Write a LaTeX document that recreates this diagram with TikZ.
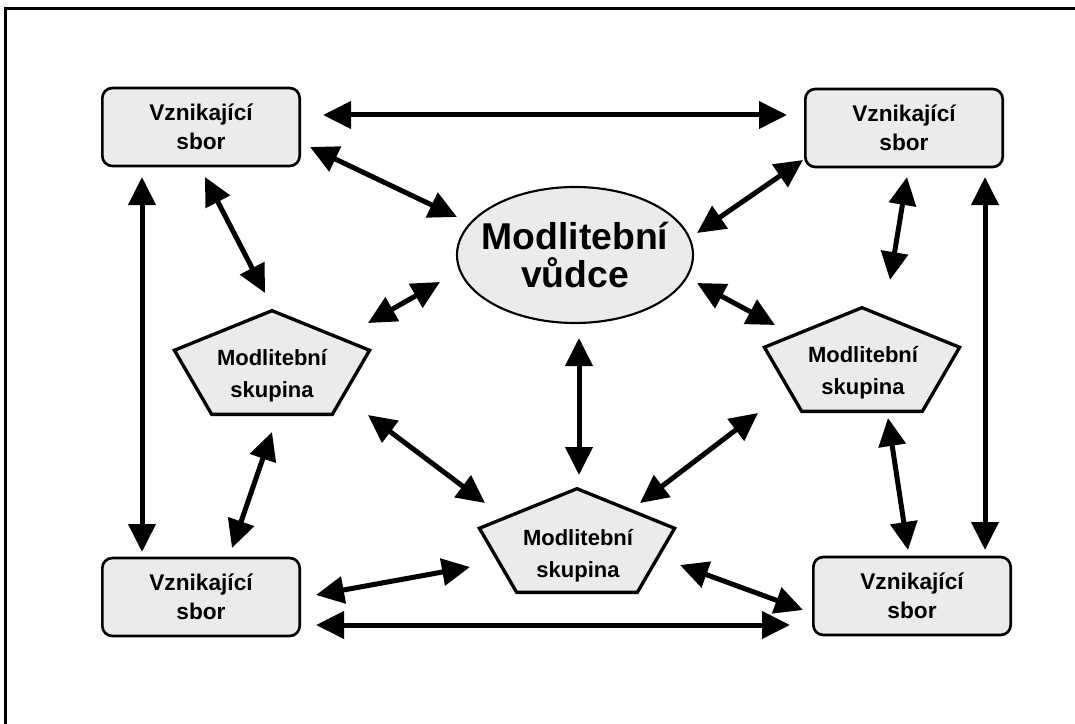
\documentclass[tikz,border=0pt]{standalone}
\usepackage{fontspec}
\setmainfont{Liberation Sans}
\usetikzlibrary{positioning, calc, shapes.geometric, arrows.meta}
\tikzstyle{Arrow} = [
%Double-headed arrow style:
line width = 3.75pt,
{Triangle[length=21pt, width=20pt]}-{Triangle[length=21pt, width=20pt]}
]

\begin{document}
\begin{tikzpicture}[
			x = 0.75pt, y = -0.75pt,
			sbor/.style = {rectangle, rounded corners = 7.5pt, draw, line width = 2pt, fill = black!8, minimum width = 148pt, minimum height = 58.5pt, align = center, font = \bfseries\fontsize{17}{22}\selectfont},
			vudce/.style = {ellipse, draw, line width = 1.6pt, fill = black!8, minimum width = 177pt, minimum height = 102pt, inner xsep = -9pt, inner ysep = 0pt, align = center, font = \bfseries\fontsize{28}{28}\selectfont},
			skupina/.style = {regular polygon, regular polygon sides = 5, draw, line width = 2.5pt, fill = black!8, minimum size = 86pt, inner sep = 0pt, xscale = 1.79, transform shape},
			skupinatext/.style = {align = center, font = \bfseries\fontsize{16.5}{24}\selectfont},
		]
		\useasboundingbox (0,0) rectangle (1075,724);
		\draw[line width = 2.25pt] (5,724) |- (1075,9);

		\node[sbor](TL) at (201,127){Vznikající\\sbor};
		\node[sbor](TR) at (904,128){Vznikající\\sbor};
		\node[sbor](BL) at (201,597){Vznikající\\sbor};
		\node[sbor](BR) at (912,596){Vznikající\\sbor};
		\node[vudce](V) at (575,255){Modlitební\\vůdce};

		\node[skupina](SL) at (272,368){};
		\node[skupina](SR) at (862,365){};
		\node[skupina](SB) at (577,546){};
		\node[skupinatext](SLtext) at (272,376){Modlitební\\skupina};
		\node[skupinatext](SRtext) at (863,373){Modlitební\\skupina};
		\node[skupinatext](SBtext) at (578,556){Modlitební\\skupina};

		\draw[Arrow]([shift={(122,-12)}]TL.center)--([shift={(-117,-13)}]TR.center);
		\draw[Arrow]([shift={(109,20)}]TL.center)--([shift={(-118,-38)}]V.center);
		\draw[Arrow]([shift={(4,50)}]TL.center)--([shift={(-7,-75)}]SL.center);
		\draw[Arrow]([shift={(-59,50)}]TL.center)--([shift={(-59,-45)}]BL.center);
		\draw[Arrow]([shift={(96,-45)}]SL.center)--([shift={(-135,27)}]V.center);
		\draw[Arrow]([shift={(0,64)}]SL.center)--([shift={(31,-49)}]BL.center);
		\draw[Arrow]([shift={(96,47)}]SL.center)--([shift={(-92,-43)}]SB.center);
		\draw[Arrow]([shift={(4,83)}]V.center)--([shift={(2,-71)}]SB.center);
		\draw[Arrow]([shift={(115,-2)}]BL.center)--([shift={(-107,21)}]SB.center);
		\draw[Arrow]([shift={(115,28)}]BL.center)--([shift={(-122,29)}]BR.center);
		\draw[Arrow]([shift={(103,19)}]SB.center)--([shift={(-109,14)}]BR.center);
		\draw[Arrow]([shift={(63,-43)}]SB.center)--([shift={(-104,48)}]SR.center);
		\draw[Arrow]([shift={(122,28)}]V.center)--([shift={(-87,-40)}]SR.center);
		\draw[Arrow]([shift={(122,-22)}]V.center)--([shift={(-101,32)}]TR.center);
		\draw[Arrow]([shift={(3,49)}]TR.center)--([shift={(28,-85)}]SR.center);
		\draw[Arrow]([shift={(81,49)}]TR.center)--([shift={(73,-46)}]BR.center);
		\draw[Arrow]([shift={(26,53)}]SR.center)--([shift={(-4,-46)}]BR.center);

	\end{tikzpicture}
\end{document}
